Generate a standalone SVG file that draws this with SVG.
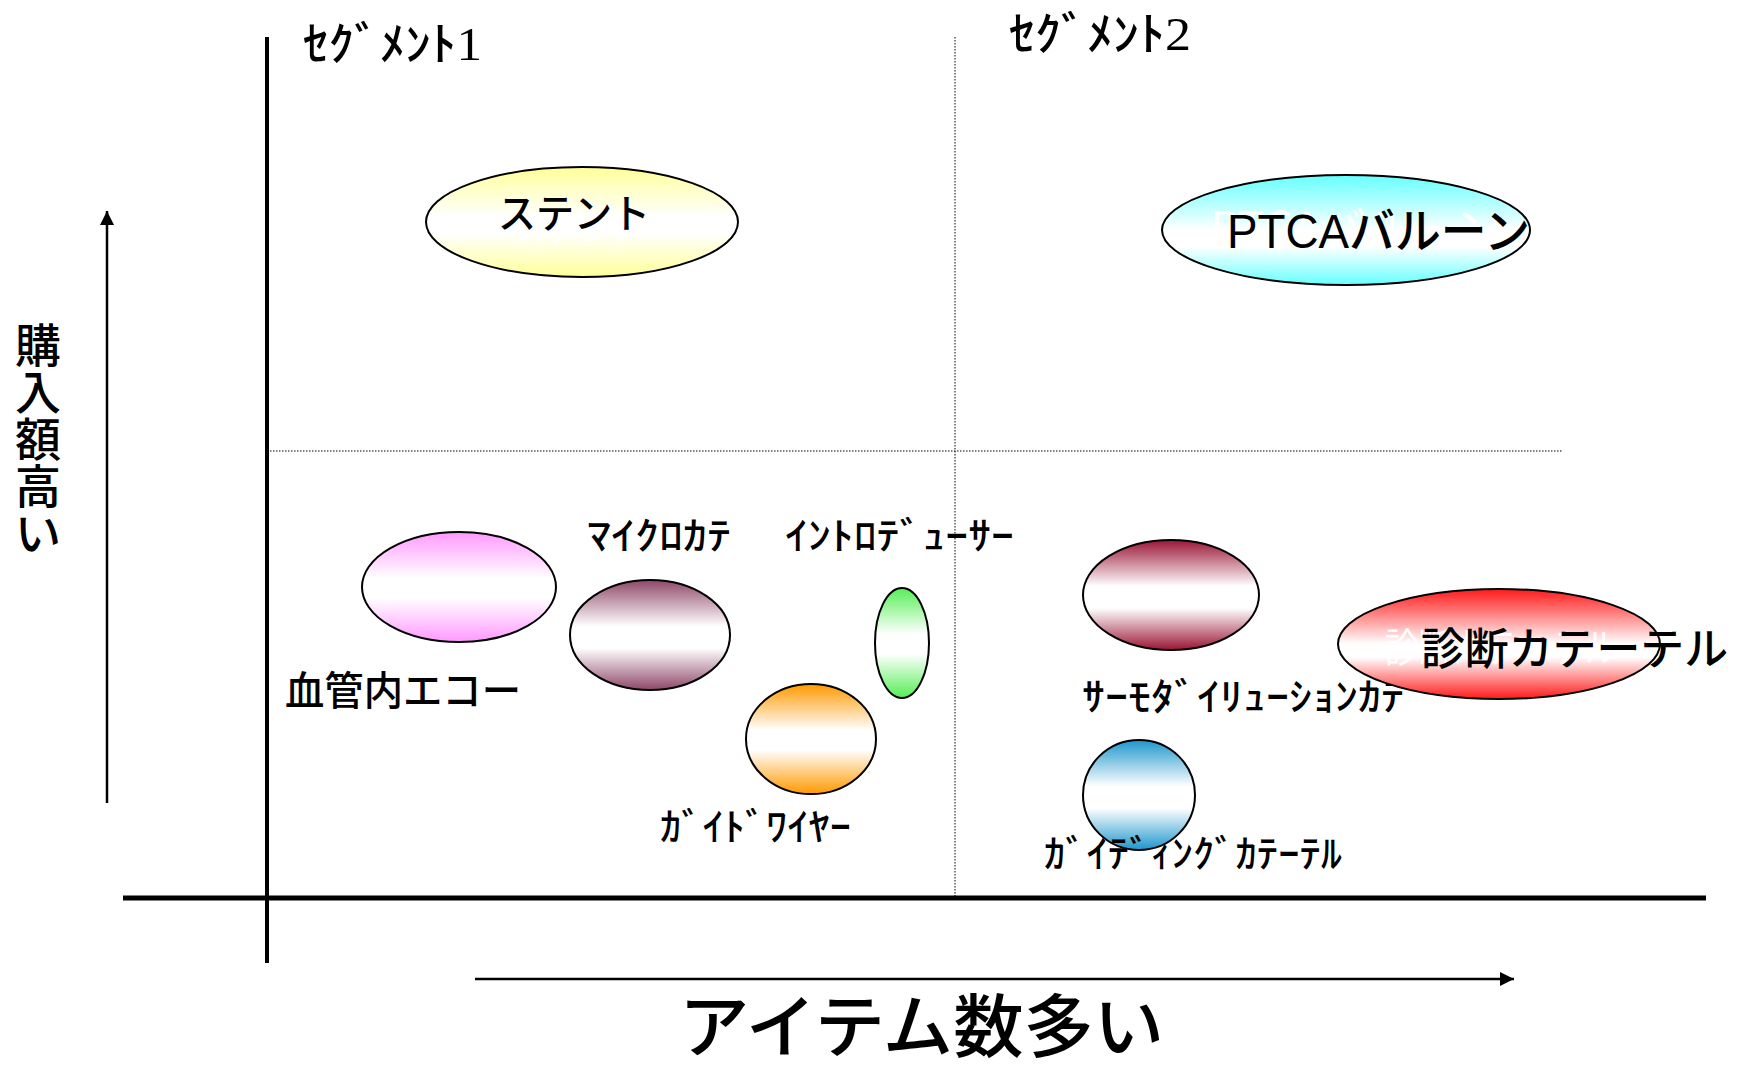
<svg xmlns="http://www.w3.org/2000/svg" width="1739" height="1067" viewBox="0 0 1739 1067">
<defs>
<style>
.jp{font-family:"Noto Sans CJK JP","Liberation Sans",sans-serif;font-weight:500;fill:#000}
.hw{font-family:"Noto Sans CJK JP","Liberation Sans",sans-serif;font-size:38px;font-weight:500;fill:#000}
.ghost{font-family:"Noto Sans CJK JP","Liberation Sans",sans-serif;fill:#fff}
.node{stroke:#000;stroke-width:2}
.axis{stroke:#000;fill:none}
.dot{stroke:#000;stroke-width:1;stroke-dasharray:1.5 1.5;fill:none}
</style>
<linearGradient id="gY" x1="0" y1="0" x2="0" y2="1"><stop offset="0" stop-color="#FFFF99"/><stop offset="0.45" stop-color="#fff"/><stop offset="0.6" stop-color="#fff"/><stop offset="1" stop-color="#FFFF99"/></linearGradient>
<linearGradient id="gC" x1="0" y1="0" x2="0" y2="1"><stop offset="0" stop-color="#66FFFF"/><stop offset="0.5" stop-color="#fff"/><stop offset="0.65" stop-color="#fff"/><stop offset="1" stop-color="#66FFFF"/></linearGradient>
<linearGradient id="gP" x1="0" y1="0" x2="0" y2="1"><stop offset="0" stop-color="#FF99FF"/><stop offset="0.42" stop-color="#fff"/><stop offset="0.6" stop-color="#fff"/><stop offset="1" stop-color="#FF99FF"/></linearGradient>
<linearGradient id="gM" x1="0" y1="0" x2="0" y2="1"><stop offset="0" stop-color="#8E4868"/><stop offset="0.42" stop-color="#fff"/><stop offset="0.62" stop-color="#fff"/><stop offset="1" stop-color="#8E4868"/></linearGradient>
<linearGradient id="gG" x1="0" y1="0" x2="0" y2="1"><stop offset="0" stop-color="#55EE55"/><stop offset="0.42" stop-color="#fff"/><stop offset="0.6" stop-color="#fff"/><stop offset="1" stop-color="#55EE55"/></linearGradient>
<linearGradient id="gO" x1="0" y1="0" x2="0" y2="1"><stop offset="0" stop-color="#FF9900"/><stop offset="0.42" stop-color="#fff"/><stop offset="0.6" stop-color="#fff"/><stop offset="1" stop-color="#FF9900"/></linearGradient>
<linearGradient id="gR" x1="0" y1="0" x2="0" y2="1"><stop offset="0" stop-color="#9B1536"/><stop offset="0.42" stop-color="#fff"/><stop offset="0.62" stop-color="#fff"/><stop offset="1" stop-color="#9B1536"/></linearGradient>
<linearGradient id="gB" x1="0" y1="0" x2="0" y2="1"><stop offset="0" stop-color="#1E96CC"/><stop offset="0.42" stop-color="#fff"/><stop offset="0.62" stop-color="#fff"/><stop offset="1" stop-color="#1E96CC"/></linearGradient>
<linearGradient id="gD" x1="0" y1="0" x2="0" y2="1"><stop offset="0" stop-color="#FF1A1A"/><stop offset="0.5" stop-color="#fff"/><stop offset="0.62" stop-color="#fff"/><stop offset="1" stop-color="#FF1A1A"/></linearGradient>
<marker id="arr2" viewBox="0 0 10 10" refX="10" refY="5" markerWidth="14" markerHeight="14" markerUnits="userSpaceOnUse" orient="auto"><path d="M0,0 L10,5 L0,10 z" fill="#000"/></marker>
</defs>
<rect width="1739" height="1067" fill="#fff"/>
<g id="connectors">
<line class="dot" x1="955" y1="37" x2="955" y2="896"/>
<line class="dot" x1="270" y1="451" x2="1563" y2="451"/>
<line class="axis" x1="267" y1="37" x2="267" y2="963" stroke-width="4"/>
<line class="axis" x1="123" y1="898" x2="1706" y2="898" stroke-width="5"/>
<line class="axis" x1="107" y1="803" x2="107" y2="211" stroke-width="2.5" marker-end="url(#arr2)"/>
<line class="axis" x1="475" y1="979" x2="1514" y2="979" stroke-width="2.5" marker-end="url(#arr2)"/>
</g>
<g id="labels">
<text class="jp" x="303" y="60" font-size="46" textLength="179" lengthAdjust="spacingAndGlyphs">ｾｸﾞﾒﾝﾄ<tspan font-family="Liberation Serif" font-weight="normal">1</tspan></text>
<text class="jp" x="1009" y="50" font-size="46" textLength="182" lengthAdjust="spacingAndGlyphs">ｾｸﾞﾒﾝﾄ<tspan font-family="Liberation Serif" font-weight="normal">2</tspan></text>
<text class="jp" font-size="46" font-weight="normal" text-anchor="middle"><tspan x="38" y="362">購</tspan><tspan x="38" y="409">入</tspan><tspan x="38" y="456">額</tspan><tspan x="38" y="503">高</tspan><tspan x="38" y="550">い</tspan></text>
<text class="jp" x="679" y="1052" font-size="69" textLength="485" lengthAdjust="spacingAndGlyphs">アイテム数多い</text>
</g>
<g id="node-stent">
<ellipse class="node" cx="582" cy="222" rx="156" ry="55" fill="url(#gY)"/>
<text class="ghost" x="578" y="241" font-size="32" text-anchor="middle">ステント</text>
<text class="jp" x="498" y="228" font-size="40" textLength="152" lengthAdjust="spacingAndGlyphs">ステント</text>
</g>
<g id="node-ptca">
<ellipse class="node" cx="1346" cy="230" rx="184" ry="55" fill="url(#gC)"/>
<text class="ghost" x="1210" y="245" font-size="46" textLength="290" lengthAdjust="spacingAndGlyphs" font-family="Liberation Sans">PTCAバルーン</text>
<text class="jp" x="1227" y="248" font-size="48" font-weight="normal" textLength="303" lengthAdjust="spacingAndGlyphs"><tspan font-family="Liberation Sans">PTCA</tspan>バルーン</text>
</g>
<g id="node-ivus">
<ellipse class="node" cx="459" cy="587" rx="97" ry="55" fill="url(#gP)"/>
<text class="jp" x="285" y="705" font-size="40" textLength="236" lengthAdjust="spacingAndGlyphs">血管内エコー</text>
</g>
<g id="node-microcath">
<ellipse class="node" cx="650" cy="635" rx="80" ry="55" fill="url(#gM)"/>
<text class="hw" x="587" y="549" textLength="144" lengthAdjust="spacingAndGlyphs">ﾏｲｸﾛｶﾃ</text>
</g>
<g id="node-introducer">
<ellipse class="node" cx="902" cy="643" rx="27" ry="55" fill="url(#gG)"/>
<text class="hw" x="785" y="549" textLength="229" lengthAdjust="spacingAndGlyphs">ｲﾝﾄﾛﾃﾞｭｰｻｰ</text>
</g>
<g id="node-guidewire">
<ellipse class="node" cx="811" cy="739" rx="65" ry="55" fill="url(#gO)"/>
<text class="hw" x="660" y="840" textLength="191" lengthAdjust="spacingAndGlyphs">ｶﾞｲﾄﾞﾜｲﾔｰ</text>
</g>
<g id="node-thermo">
<ellipse class="node" cx="1171" cy="595" rx="88" ry="55" fill="url(#gR)"/>
<text class="hw" x="1082" y="710" textLength="322" lengthAdjust="spacingAndGlyphs">ｻｰﾓﾀﾞｲﾘｭｰｼｮﾝｶﾃ</text>
</g>
<g id="node-guiding">
<ellipse class="node" cx="1139" cy="795" rx="56" ry="55" fill="url(#gB)"/>
<text class="hw" x="1044" y="867" textLength="298" lengthAdjust="spacingAndGlyphs">ｶﾞｲﾃﾞｨﾝｸﾞｶﾃｰﾃﾙ</text>
</g>
<g id="node-diag">
<ellipse class="node" cx="1499" cy="644" rx="161" ry="55" fill="url(#gD)"/>
<text class="ghost" x="1385" y="662" font-size="40" textLength="233" lengthAdjust="spacingAndGlyphs">診断カテーテル</text>
<text class="jp" x="1421" y="665" font-size="44" textLength="307" lengthAdjust="spacingAndGlyphs">診断カテーテル</text>
</g>
</svg>
